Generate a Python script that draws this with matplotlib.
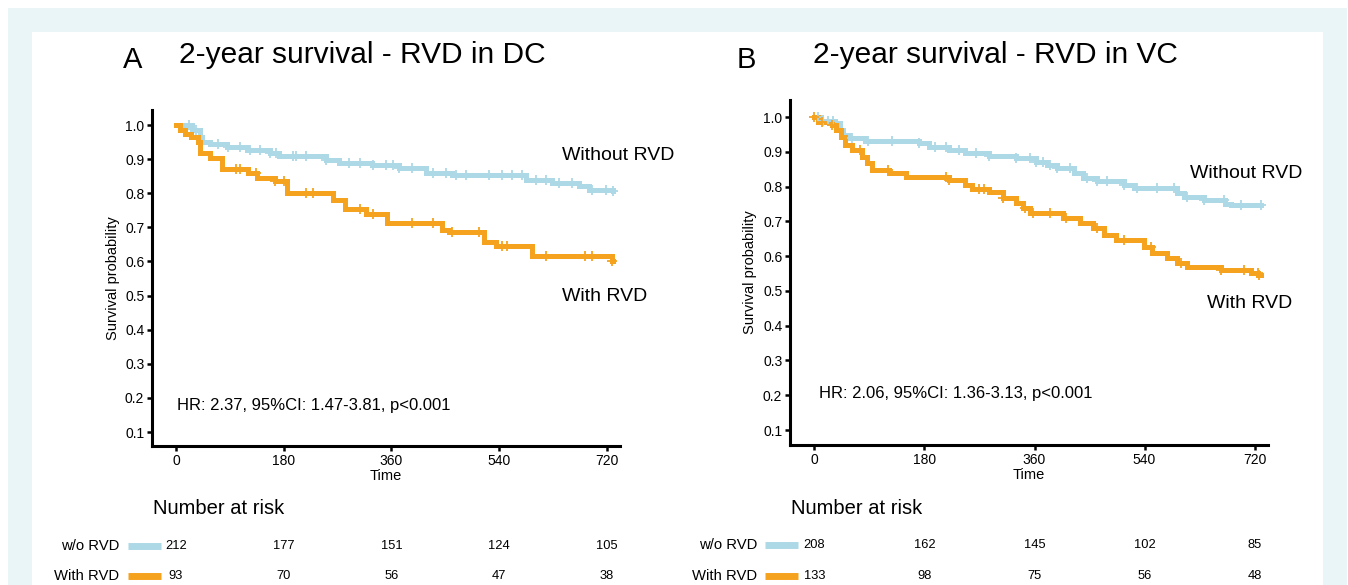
import numpy as np
import matplotlib
matplotlib.use("Agg")
import matplotlib.pyplot as plt
import matplotlib.transforms as mtransforms
from matplotlib.patches import Rectangle
from matplotlib.lines import Line2D

plt.rcParams['font.family'] = ['Liberation Sans', 'DejaVu Sans']

BLUE = '#ADD8E6'
ORANGE = '#F5A21F'

# ---- panel A: RVD in DC ----
a_wo_t = [0, 27, 40, 43, 57, 85, 118, 157, 173, 251, 273, 328, 373, 418, 462, 585, 628, 673, 690, 730]
a_wo_s = [1.0, 0.985, 0.965, 0.95, 0.944, 0.936, 0.927, 0.918, 0.909, 0.897, 0.889, 0.883, 0.874, 0.860, 0.853, 0.839, 0.830, 0.822, 0.810, 0.808]
a_wo_cens = [21, 34, 71, 87, 107, 123, 140, 157, 168, 195, 201, 218, 251, 290, 307, 329, 351, 362, 373,
             395, 429, 451, 468, 484, 523, 545, 562, 579, 601, 618, 640, 662, 695, 718, 730]
a_w_t = [0, 7, 15, 25, 37, 40, 57, 77, 120, 135, 165, 185, 262, 282, 318, 352, 445, 457, 515, 535, 595, 729, 730]
a_w_s = [1.0, 0.985, 0.975, 0.965, 0.95, 0.918, 0.903, 0.871, 0.859, 0.845, 0.836, 0.80, 0.78, 0.754, 0.739, 0.713,
         0.692, 0.686, 0.657, 0.645, 0.616, 0.60, 0.60]
a_w_cens = [100, 107, 134, 165, 181, 218, 229, 307, 329, 395, 429, 462, 507, 545, 554, 618, 684, 695, 729]

# ---- panel B: RVD in VC ----
b_wo_t = [0, 11, 33, 42, 47, 56, 83, 171, 188, 220, 247, 286, 330, 363, 380, 396, 424, 440, 462, 506, 523, 593,
          605, 638, 671, 682, 730]
b_wo_s = [1.0, 0.99, 0.982, 0.963, 0.948, 0.94, 0.931, 0.925, 0.914, 0.905, 0.897, 0.888, 0.882, 0.871, 0.862,
          0.853, 0.839, 0.825, 0.816, 0.805, 0.796, 0.782, 0.77, 0.762, 0.75, 0.747, 0.747]
b_wo_cens = [6, 14, 22, 31, 61, 88, 127, 171, 198, 215, 237, 264, 286, 330, 352, 363, 374, 385, 396, 418, 446,
             462, 478, 506, 528, 561, 588, 610, 638, 670, 698, 730]
b_w_t = [0, 6, 28, 36, 44, 50, 61, 77, 86, 94, 122, 149, 220, 247, 258, 286, 308, 330, 341, 352, 407, 435, 456,
         473, 494, 539, 552, 577, 593, 610, 665, 715, 726, 730]
b_w_s = [1.0, 0.986, 0.977, 0.963, 0.943, 0.92, 0.905, 0.885, 0.867, 0.848, 0.839, 0.828, 0.819, 0.805, 0.793,
         0.785, 0.768, 0.753, 0.739, 0.724, 0.71, 0.695, 0.681, 0.661, 0.647, 0.626, 0.609, 0.595, 0.58, 0.569,
         0.56, 0.552, 0.545, 0.545]
b_w_cens = [0, 12, 28, 75, 121, 215, 220, 270, 278, 308, 344, 357, 385, 412, 462, 506, 550, 599, 665, 703, 725, 728]

risk_times = [0, 180, 360, 540, 720]
a_risk_wo = [212, 177, 151, 124, 105]
a_risk_w = [93, 70, 56, 47, 38]
b_risk_wo = [208, 162, 145, 102, 85]
b_risk_w = [133, 98, 75, 56, 48]

fig = plt.figure(figsize=(13.48, 5.85), dpi=100)
fig.patch.set_facecolor('white')
W, H = 1348.0, 585.0
fig.patches.append(Rectangle((8 / W, 0), 1339 / W, 577 / H, transform=fig.transFigure,
                             facecolor='#EAF5F8', edgecolor='none', zorder=-10))
fig.patches.append(Rectangle((32 / W, 0), 1291 / W, 553 / H, transform=fig.transFigure,
                             facecolor='white', edgecolor='none', zorder=-9))


def px(x, y):
    return x / W, 1 - y / H


def curve(ax, t, s, cens, color):
    t = np.array(t, float)
    s = np.array(s, float)
    ax.step(t, s, where='post', color=color, lw=3.6, solid_joinstyle='miter', zorder=3)
    c = np.array(cens, float)
    idx = np.searchsorted(t, c, side='right') - 1
    ax.plot(c, s[idx], ls='none', marker='+', ms=7, mew=1.3, color=color, zorder=4)


def panel(rect, letter, title, letter_xy, title_xy, wo, w, hr, hr_xy, lab_wo, lab_w, ylim,
          risk_wo, risk_w, nar_xy, lab_right, bar_x, rows_y, ylab_x):
    ax = fig.add_axes(rect)
    curve(ax, *wo, BLUE)
    curve(ax, *w, ORANGE)
    ax.set_xlim(-40, 742)
    ax.set_ylim(*ylim)
    ax.set_xticks(risk_times)
    ax.set_yticks(np.round(np.arange(0.1, 1.01, 0.1), 1))
    ax.set_yticklabels(['%.1f' % v for v in np.arange(0.1, 1.01, 0.1)])
    for sp in ['top', 'right']:
        ax.spines[sp].set_visible(False)
    for sp in ['left', 'bottom']:
        ax.spines[sp].set_linewidth(2.2)
    ax.tick_params(direction='out', length=3.5, width=1.8, labelsize=10, pad=2, colors='black')
    ax.set_xlabel('Time', fontsize=10.5, labelpad=1)
    ax.set_ylabel('Survival probability', fontsize=10.5)
    ax.yaxis.set_label_coords(ylab_x, 0.5)
    ax.text(hr_xy[0], hr_xy[1], hr, fontsize=12, va='center', ha='left')
    ax.text(lab_wo[0], lab_wo[1], 'Without RVD', fontsize=14, va='center', ha='left')
    ax.text(lab_w[0], lab_w[1], 'With RVD', fontsize=14, va='center', ha='left')

    fig.text(*px(*letter_xy), letter, fontsize=21, ha='left', va='center')
    fig.text(*px(*title_xy), title, fontsize=21.5, ha='left', va='center')

    # number at risk table
    fig.text(*px(*nar_xy), 'Number at risk', fontsize=14.5, ha='left', va='center')
    tr = mtransforms.blended_transform_factory(ax.transData, fig.transFigure)
    for vals, name, color, yy in [(risk_wo, 'w/o RVD', BLUE, rows_y[0]), (risk_w, 'With RVD', ORANGE, rows_y[1])]:
        fy = 1 - yy / H
        fig.text(lab_right / W, fy, name, fontsize=10.7, ha='right', va='center')
        fig.lines.append(Line2D([bar_x[0] / W, bar_x[1] / W], [fy, fy], transform=fig.transFigure,
                                color=color, lw=5, solid_capstyle='butt'))
        for tt, v in zip(risk_times, vals):
            fig.text(tt, fy, str(v), fontsize=9.3, ha='center', va='center', transform=tr)
    return ax


panel([152 / W, 1 - 446 / H, 468 / W, 336 / H], 'A', '2-year survival - RVD in DC', (123, 60), (179, 55),
      (a_wo_t, a_wo_s, a_wo_cens), (a_w_t, a_w_s, a_w_cens),
      'HR: 2.37, 95%CI: 1.47-3.81, p<0.001', (2, 0.179), (645, 0.912), (645, 0.498), (0.059, 1.044),
      a_risk_wo, a_risk_w, (153, 509), 119, (128, 161), (546, 576), -0.068)

panel([790 / W, 1 - 445 / H, 478 / W, 345 / H], 'B', '2-year survival - RVD in VC', (737, 60), (813, 55),
      (b_wo_t, b_wo_s, b_wo_cens), (b_w_t, b_w_s, b_w_cens),
      'HR: 2.06, 95%CI: 1.36-3.13, p<0.001', (8, 0.204), (615, 0.839), (642, 0.463), (0.057, 1.049),
      b_risk_wo, b_risk_w, (791, 508), 757, (765, 798), (545, 576), -0.069)

fig.savefig('out.png', dpi=100, facecolor=fig.get_facecolor())
